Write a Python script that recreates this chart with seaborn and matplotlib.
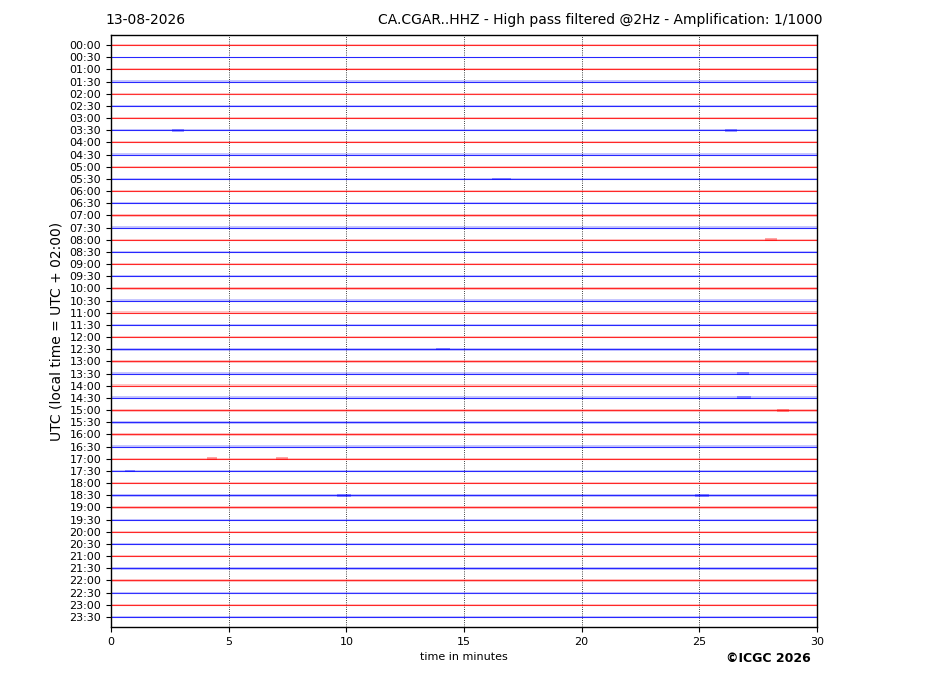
import numpy as np
import pandas as pd
import matplotlib
matplotlib.use("Agg")
import matplotlib.pyplot as plt
import seaborn as sns

# ---- data ----
row_labels = [f"{h:02d}:{m:02d}" for h in range(24) for m in (0, 30)]
# visual noise level of each 30-min trace (band half-width, in pixels on the reference)
noise_px = [0.6, 0.6, 0.9, 1.2, 0.7, 0.7, 0.7, 0.8, 1.1, 1.2, 1.1, 1.1,
            1.0, 1.1, 1.2, 1.2, 1.2, 1.2, 1.1, 1.2, 1.5, 1.5, 1.4, 1.4,
            1.4, 1.5, 1.5, 1.5, 1.4, 1.5, 1.4, 1.5, 1.4, 1.4, 1.2, 1.2,
            1.2, 1.4, 1.2, 0.9, 0.8, 0.8, 0.9, 1.2, 1.1, 0.8, 0.8, 0.6]
# small transient bursts: (row index, start minute, end minute, half-width px)
event_rows = [7, 7, 11, 16, 25, 27, 29, 30, 34, 34, 35, 37, 37]
event_start = [2.6, 26.1, 16.2, 27.8, 13.8, 26.6, 26.6, 28.3, 4.1, 7.0, 0.6, 24.8, 9.6]
event_end = [3.1, 26.6, 17.0, 28.3, 14.4, 27.1, 27.2, 28.8, 4.5, 7.5, 1.0, 25.4, 10.2]
event_amp = [1.5, 1.5, 1.2, 1.5, 1.2, 1.5, 1.5, 1.5, 1.3, 1.5, 1.3, 1.5, 1.3]
x_ticks = [0, 5, 10, 15, 20, 25, 30]

n = len(row_labels)
px_per_row = (617 - 45) / 47.0
colors = ["#ff0000" if i % 2 == 0 else "#0000ff" for i in range(n)]

sns.set_style("ticks")
plt.rcParams["font.family"] = ["DejaVu Sans"]
plt.rcParams["text.color"] = "black"
plt.rcParams["axes.labelcolor"] = "black"
plt.rcParams["xtick.color"] = "black"
plt.rcParams["ytick.color"] = "black"

fig = plt.figure(figsize=(9.27, 6.96), dpi=100)
ax = fig.add_axes([111 / 927, 1 - 627 / 696, (817 - 111) / 927, (627 - 35) / 696])

# centre lines via seaborn
df = pd.DataFrame({
    "minute": np.tile([0.0, 30.0], n),
    "row": np.repeat(np.arange(n), 2).astype(float),
    "trace": np.repeat(np.arange(n), 2),
    "grp": np.repeat(["r" if i % 2 == 0 else "b" for i in range(n)], 2),
})
sns.lineplot(data=df, x="minute", y="row", units="trace", hue="grp",
             palette={"r": "#ff0000", "b": "#0000ff"}, estimator=None,
             linewidth=0.8, legend=False, ax=ax, alpha=0.8)

# noise band around each trace
for i in range(n):
    a = noise_px[i] / px_per_row
    ax.fill_between([0, 30], i - a, i + a, color=colors[i], alpha=0.22, linewidth=0)

# transient bursts
for r, s, e, a in zip(event_rows, event_start, event_end, event_amp):
    h = a / px_per_row
    ax.fill_between([s, e], r - h, r + h, color=colors[r], alpha=0.35, linewidth=0)

ax.set_xlim(0, 30)
ax.set_ylim(n - 1 + 10 / px_per_row, -10 / px_per_row)
ax.set_yticks(np.arange(n))
ax.set_yticklabels(row_labels, fontsize=8)
ax.set_xticks(x_ticks)
ax.set_xticklabels([str(t) for t in x_ticks], fontsize=8)
for t in x_ticks[1:-1]:
    ax.axvline(t, color="black", linestyle=":", linewidth=0.6, zorder=0)
ax.set_xlabel("time in minutes", fontsize=8)
ax.set_ylabel("UTC (local time = UTC + 02:00)", fontsize=10)
for sp in ax.spines.values():
    sp.set_visible(True)
    sp.set_linewidth(1.0)
    sp.set_color("black")
ax.tick_params(direction="out", length=3.5, width=0.8, colors="black")

fig.text(105 / 927, 1 - 20 / 696, "13-08-2026", fontsize=10, ha="left", va="center")
fig.text(822 / 927, 1 - 20 / 696,
         "CA.CGAR..HHZ - High pass filtered @2Hz - Amplification: 1/1000",
         fontsize=10, ha="right", va="center")
fig.text(811 / 927, 1 - 659 / 696, "\u00a9ICGC 2026", fontsize=9,
         fontweight="bold", ha="right", va="center")

fig.savefig("out.png", dpi=100, facecolor="white")
